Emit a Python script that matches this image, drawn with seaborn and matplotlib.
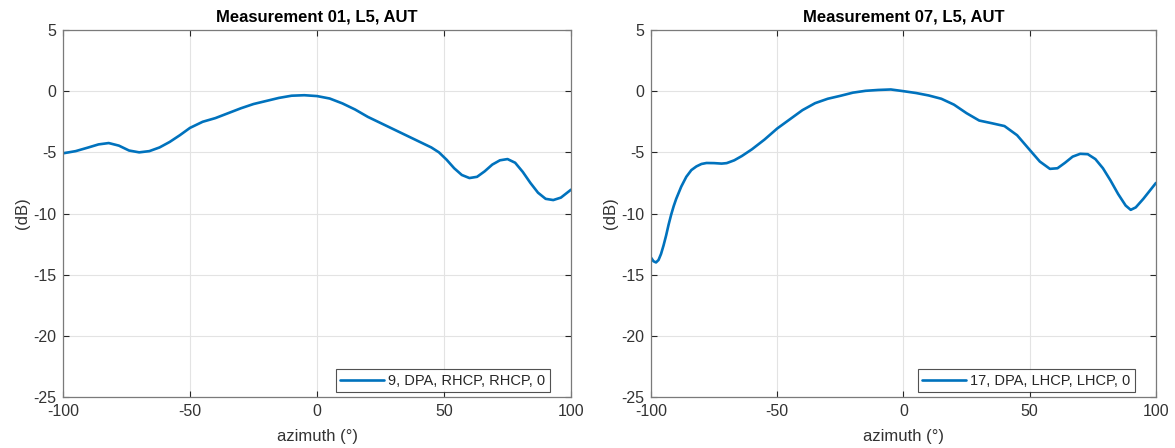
import numpy as np
import pandas as pd
import matplotlib
matplotlib.use("Agg")
import matplotlib.pyplot as plt
import seaborn as sns

# Measurement 01 (RHCP) pattern cut
az_01 = [-100, -95, -90, -86, -82, -78, -74, -70, -66, -62, -58, -54, -50, -45, -40, -35,
         -30, -25, -20, -15, -10, -5, 0, 5, 10, 15, 20, 25, 30, 35, 40, 45, 48, 51, 54,
         57, 60, 63, 66, 69, 72, 75, 78, 81, 84, 87, 90, 93, 96, 100]
db_01 = [-5.08, -4.9, -4.6, -4.35, -4.24, -4.45, -4.85, -5.0, -4.9, -4.6, -4.15, -3.6,
         -3.0, -2.5, -2.2, -1.8, -1.4, -1.05, -0.8, -0.55, -0.37, -0.33, -0.4, -0.6,
         -1.0, -1.5, -2.1, -2.6, -3.1, -3.6, -4.1, -4.6, -5.0, -5.6, -6.3, -6.85, -7.1,
         -7.0, -6.55, -6.0, -5.65, -5.55, -5.85, -6.6, -7.5, -8.3, -8.8, -8.9, -8.7, -8.05]

# Measurement 07 (LHCP) pattern cut
az_07 = [-100, -99, -98, -97, -96, -95, -94, -93, -92, -91, -90, -88, -86, -84, -82, -80,
         -78, -75, -72, -70, -67, -64, -60, -55, -50, -45, -40, -35, -30, -25, -20, -15,
         -10, -5, 0, 5, 10, 15, 20, 25, 30, 35, 40, 45, 50, 54, 58, 61, 64, 67, 70, 73,
         76, 79, 82, 85, 88, 90, 92, 95, 100]
db_07 = [-13.6, -13.9, -14.0, -13.8, -13.3, -12.6, -11.8, -10.9, -10.1, -9.4, -8.8, -7.8,
         -7.0, -6.45, -6.15, -5.95, -5.87, -5.88, -5.92, -5.88, -5.65, -5.3, -4.75, -3.95,
         -3.05, -2.3, -1.55, -0.98, -0.62, -0.38, -0.12, 0.03, 0.1, 0.14, 0.0, -0.15,
         -0.35, -0.62, -1.1, -1.8, -2.4, -2.62, -2.85, -3.6, -4.8, -5.75, -6.35, -6.3,
         -5.85, -5.35, -5.12, -5.15, -5.55, -6.3, -7.3, -8.4, -9.35, -9.7, -9.5, -8.8, -7.5]

titles = ["Measurement 01, L5, AUT", "Measurement 07, L5, AUT"]
labels = ["9, DPA, RHCP, RHCP, 0", "17, DPA, LHCP, LHCP, 0"]
x_ticks = [-100, -50, 0, 50, 100]
y_ticks = [5, 0, -5, -10, -15, -20, -25]

sns.set_theme(style="white")
plt.rcParams["font.family"] = ["Liberation Sans", "DejaVu Sans"]
plt.rcParams["axes.unicode_minus"] = False

fig = plt.figure(figsize=(11.75, 4.48), dpi=100)
ax1 = fig.add_axes([0.0536, 0.1138, 0.4324, 0.8192])
ax2 = fig.add_axes([0.554, 0.1138, 0.4298, 0.8192])

line_color = "#0072BD"
axis_color = "#262626"
spine_color = "#7a7a7a"

for ax, az, db, title, label in [(ax1, az_01, db_01, titles[0], labels[0]),
                                 (ax2, az_07, db_07, titles[1], labels[1])]:
    df = pd.DataFrame({"azimuth": az, "dB": db})
    sns.lineplot(data=df, x="azimuth", y="dB", ax=ax, color=line_color,
                 linewidth=1.9, label=label)
    ax.set_xlim(-100, 100)
    ax.set_ylim(-25, 5)
    ax.set_xticks(x_ticks)
    ax.set_yticks(y_ticks)
    ax.grid(True, color="#e3e3e3", linewidth=0.8)
    ax.set_axisbelow(True)
    for s in ax.spines.values():
        s.set_visible(True)
        s.set_color(spine_color)
        s.set_linewidth(0.9)
    ax.tick_params(axis="both", direction="in", length=4, width=0.8,
                   colors=axis_color, labelsize=11.5, top=True, right=True,
                   bottom=True, left=True, pad=5)
    for t in ax.get_xticklabels() + ax.get_yticklabels():
        t.set_color("#333333")
    ax.set_xlabel("azimuth (°)", fontsize=12, color="#333333", labelpad=7)
    ax.set_ylabel("(dB)", fontsize=12, color="#333333", labelpad=2)
    ax.set_title(title, fontsize=12, fontweight="bold", color="black", pad=6)
    leg = ax.legend(loc="lower right", bbox_to_anchor=(0.958, 0.013),
                    fontsize=10.5, frameon=True, fancybox=False,
                    handlelength=3.0, borderaxespad=0.0, borderpad=0.3,
                    handletextpad=0.3)
    leg.get_frame().set_edgecolor(axis_color)
    leg.get_frame().set_linewidth(0.8)
    for t in leg.get_texts():
        t.set_color(axis_color)

fig.savefig("out.png", dpi=100, facecolor="white")
